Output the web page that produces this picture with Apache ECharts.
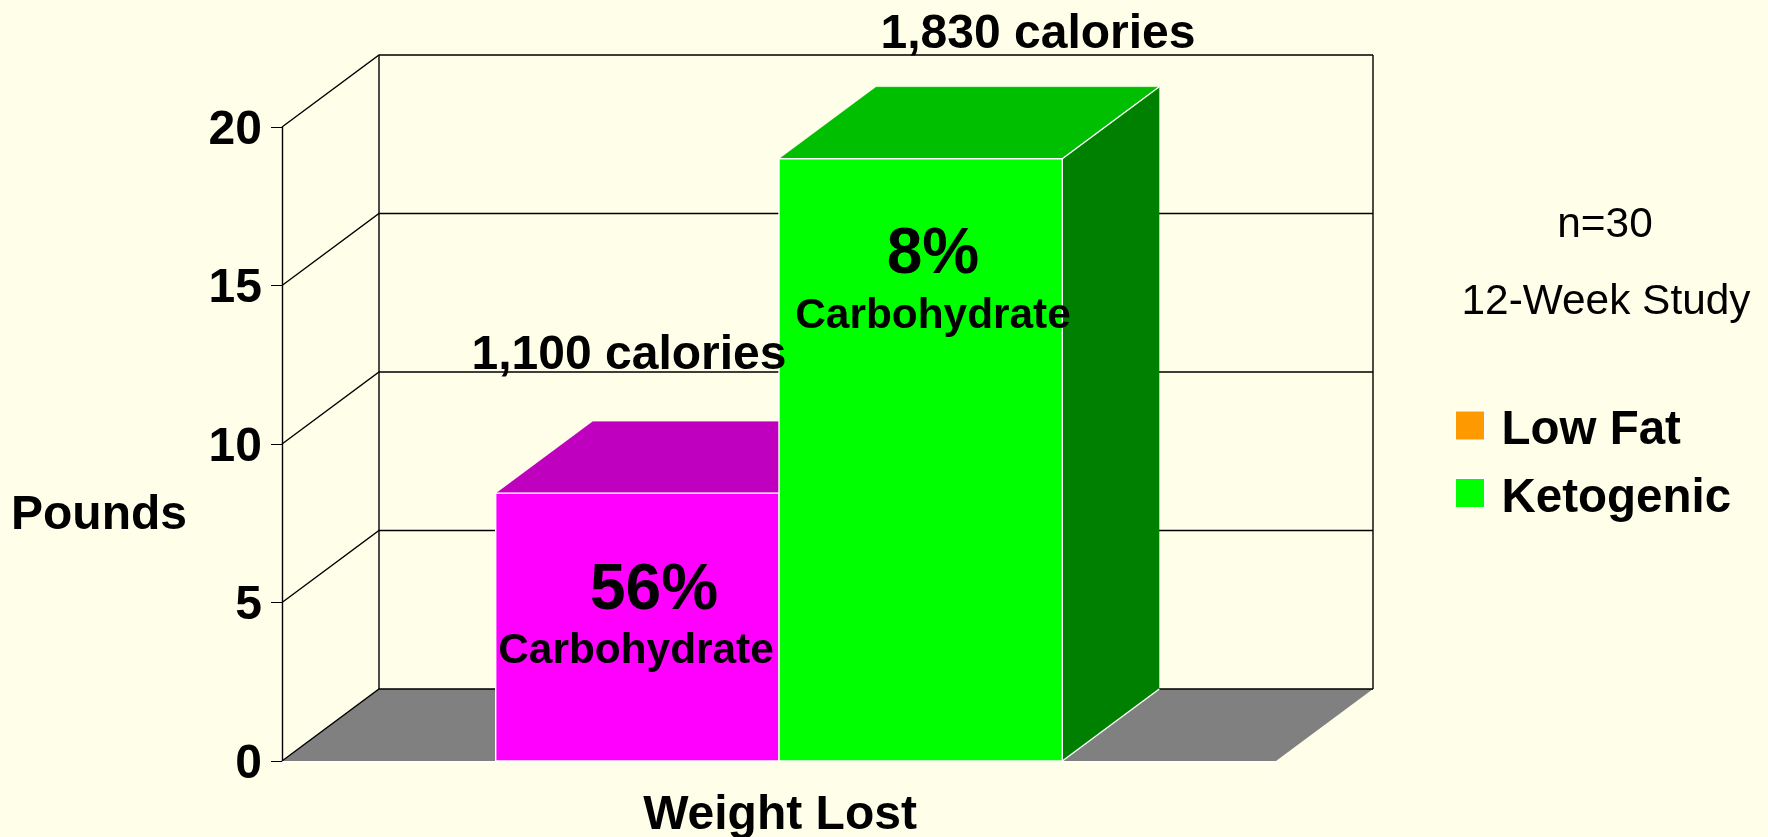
<!DOCTYPE html>
<html>
<head>
<meta charset="utf-8">
<title>Weight Lost</title>
<script src="https://cdn.jsdelivr.net/npm/echarts@6/dist/echarts.min.js"></script>
<style>
  html, body { margin: 0; height: 100%; background: #ffffe9; }
  #chart { width: 1768px; height: 837px; }
</style>
</head>
<body>
<div id="chart"></div>
<script>
const categories = ['Weight Lost']
const yTicks = [0, 5, 10, 15, 20]
const lowFat = [8.45]
const ketogenic = [19]
const fontFamily = 'Liberation Sans'

// depth of the fake 3D box, in pixels
const depthX = 97
const depthY = 72
const barShare = 0.285

const myChart = echarts.init(document.getElementById('chart'))

// back wall, side wall and floor, one item per y tick
function renderWalls(params, api) {
  const tick = api.value(0)
  const box = params.coordSys
  const left = box.x
  const right = box.x + box.width
  const y = api.coord([0, tick])[1]
  const lineStyle = { stroke: '#000', lineWidth: 1.4, fill: 'none' }
  const children = []
  if (tick === 0) {
    children.push({
      type: 'polygon',
      shape: { points: [[left, y], [right, y], [right + depthX, y - depthY], [left + depthX, y - depthY]] },
      style: { fill: '#808080' }
    })
  }
  if (tick === yTicks[yTicks.length - 1]) {
    const bottom = box.y + box.height - depthY
    children.push(
      { type: 'line', shape: { x1: left + depthX, y1: y - depthY, x2: left + depthX, y2: bottom }, style: lineStyle },
      { type: 'line', shape: { x1: right + depthX, y1: y - depthY, x2: right + depthX, y2: bottom }, style: lineStyle }
    )
  }
  children.push({
    type: 'polyline',
    shape: { points: [[left, y], [left + depthX, y - depthY], [right + depthX, y - depthY]] },
    style: lineStyle
  })
  return { type: 'group', children }
}

// side = -1 left of the category centre, 1 right of it
function barRender(side, front, top, wall) {
  return function(params, api) {
    const base = api.coord([api.value(0), 0])
    const peak = api.coord([api.value(0), api.value(1)])
    const width = api.size([1, 0])[0] * barShare
    const x0 = side < 0 ? base[0] - width : base[0]
    const x1 = x0 + width
    const edge = { stroke: '#fff', lineWidth: 1.4, fill: 'none' }
    return {
      type: 'group',
      children: [
        {
          type: 'polygon',
          shape: { points: [[x1, base[1]], [x1 + depthX, base[1] - depthY], [x1 + depthX, peak[1] - depthY], [x1, peak[1]]] },
          style: { fill: wall }
        },
        {
          type: 'polygon',
          shape: { points: [[x0, peak[1]], [x1, peak[1]], [x1 + depthX, peak[1] - depthY], [x0 + depthX, peak[1] - depthY]] },
          style: { fill: top, stroke: 'rgba(255,255,255,0.3)', lineWidth: 1 }
        },
        {
          type: 'rect',
          shape: { x: x0, y: peak[1], width: width, height: base[1] - peak[1] },
          style: { fill: front, stroke: '#fff', lineWidth: 1.4 }
        },
        { type: 'line', shape: { x1: x1, y1: peak[1], x2: x1 + depthX, y2: peak[1] - depthY }, style: edge },
        { type: 'line', shape: { x1: x1, y1: base[1], x2: x1 + depthX, y2: base[1] - depthY }, style: edge }
      ]
    }
  }
}

function note(text, x, y, fontSize, fontWeight) {
  return {
    type: 'text',
    x: x,
    y: y,
    z: 100,
    style: {
      text: text,
      x: 0,
      y: 0,
      align: 'center',
      verticalAlign: 'middle',
      fill: '#000',
      fontFamily: fontFamily,
      fontSize: fontSize,
      fontWeight: fontWeight
    }
  }
}

myChart.setOption({
  backgroundColor: '#ffffe9',
  animation: false,
  textStyle: { fontFamily: fontFamily },
  grid: { left: 282, right: 492, top: 127, bottom: 76, outerBoundsMode: 'none' },
  legend: {
    orient: 'vertical',
    left: 1455,
    top: 407,
    padding: 0,
    icon: 'rect',
    itemWidth: 29,
    itemHeight: 29,
    itemGap: 19.5,
    data: ['Low Fat', 'Ketogenic'],
    selectedMode: false,
    itemStyle: { borderColor: '#fff', borderWidth: 1 },
    formatter: '{a|{name}}',
    textStyle: {
      rich: {
        // top padding pushes the text down against the swatch
        a: { color: '#000', fontSize: 47.5, fontWeight: 'bold', fontFamily: fontFamily, padding: [11, 0, 0, 12] }
      }
    }
  },
  xAxis: {
    type: 'category',
    data: categories,
    axisLine: { lineStyle: { color: '#fff', width: 1.4 } },
    axisTick: { show: true, length: 12, lineStyle: { color: '#fffff8' } },
    axisLabel: { color: '#000', fontSize: 48, fontWeight: 'bold', margin: 31, padding: [0, 0, 0, 2] },
    splitLine: { show: false }
  },
  yAxis: {
    type: 'value',
    min: 0,
    max: 20,
    interval: 5,
    axisLine: { show: true, lineStyle: { color: '#000', width: 1.4 } },
    axisTick: { show: true, length: 11, lineStyle: { color: '#000', width: 1 } },
    axisLabel: {
      margin: 20,
      formatter: '{a|{value}}',
      rich: {
        a: { color: '#000', fontSize: 48, fontWeight: 'bold', fontFamily: fontFamily, padding: [7, 0, 0, 0] }
      }
    },
    splitLine: { show: false }
  },
  series: [
    {
      name: 'walls',
      type: 'custom',
      renderItem: renderWalls,
      clip: false,
      silent: true,
      z: 1,
      encode: { x: 1, y: 0 },
      data: yTicks.map(t => [t, 0])
    },
    {
      name: 'Low Fat',
      type: 'custom',
      renderItem: barRender(-1, '#ff00ff', '#bf00bf', '#800080'),
      clip: false,
      z: 2,
      itemStyle: { color: '#ff9900' },
      encode: { x: 0, y: 1 },
      data: lowFat.map((v, i) => [i, v])
    },
    {
      name: 'Ketogenic',
      type: 'custom',
      renderItem: barRender(1, '#00ff00', '#00bf00', '#008000'),
      clip: false,
      z: 3,
      itemStyle: { color: '#00ff00' },
      encode: { x: 0, y: 1 },
      data: ketogenic.map((v, i) => [i, v])
    }
  ],
  graphic: [
    note('Pounds', 99, 516, 48, 'bold'),
    note('1,830 calories', 1038, 35, 48, 'bold'),
    note('1,100 calories', 629, 356, 48, 'bold'),
    note('8%', 933, 255, 64, 'bold'),
    note('Carbohydrate', 933, 316, 42.4, 'bold'),
    note('56%', 654, 591, 64, 'bold'),
    note('Carbohydrate', 636, 651, 42.4, 'bold'),
    note('n=30', 1605, 225, 42.4, 'normal'),
    note('12-Week Study', 1606, 302, 42.4, 'normal')
  ]
})
</script>
</body>
</html>
